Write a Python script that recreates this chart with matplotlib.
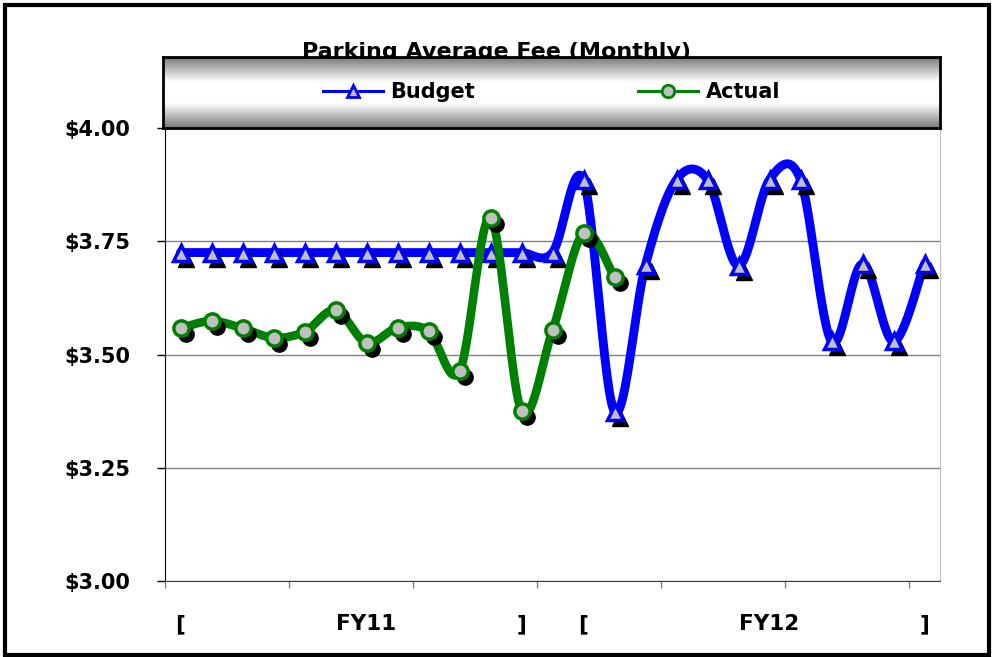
import numpy as np
import matplotlib
matplotlib.use('Agg')
import matplotlib.pyplot as plt
from matplotlib.lines import Line2D
from matplotlib.patches import Rectangle
from matplotlib.transforms import ScaledTranslation

# Données
categories = ['[', '', '', '', '', '', 'FY11', '', '', '', '', ']',
              '', '[', '', '', '', '', '', 'FY12', '', '', '', '', ']']
budget = [3.725, 3.725, 3.725, 3.725, 3.725, 3.725, 3.725, 3.725, 3.725, 3.725,
          3.725, 3.725, 3.725, 3.885, 3.374, 3.698, 3.886, 3.886, 3.696, 3.886,
          3.886, 3.529, 3.70, 3.529, 3.70]
actual = [3.558, 3.574, 3.558, 3.537, 3.550, 3.598, 3.526, 3.559, 3.552, 3.463,
          3.802, 3.376, 3.553, 3.768, 3.670]
yticks = [3.00, 3.25, 3.50, 3.75, 4.00]

BLUE = '#0000FF'
GREEN = '#008000'
SILVER = '#C0C0C0'
FONT = 'DejaVu Sans'


def smooth(y, n=30):
    # lissage type Excel (Bezier / Catmull-Rom)
    y = np.asarray(y, dtype=float)
    x = np.arange(len(y), dtype=float)
    p = np.vstack([x, y]).T
    pts = np.vstack([p[0], p, p[-1]])
    out = []
    t = np.linspace(0, 1, n)[:, None]
    for i in range(1, len(pts) - 2):
        p0, p1, p2, p3 = pts[i - 1], pts[i], pts[i + 1], pts[i + 2]
        b1 = p1 + (p2 - p0) / 6
        b2 = p2 - (p3 - p1) / 6
        seg = ((1 - t) ** 3) * p1 + 3 * ((1 - t) ** 2) * t * b1 + 3 * (1 - t) * t ** 2 * b2 + t ** 3 * p2
        out.append(seg if i == 1 else seg[1:])
    c = np.vstack(out)
    return c[:, 0], c[:, 1]


W, H = 994, 657
fig = plt.figure(figsize=(W / 100, H / 100), dpi=100)
ax = fig.add_axes([165 / W, 1 - 581 / H, 775 / W, 453 / H])

xb = np.arange(len(budget))
xa = np.arange(len(actual))
shadow = ax.transData + ScaledTranslation(0.05, -0.06, fig.dpi_scale_trans)

# Budget
sx, sy = smooth(budget)
ax.plot(sx, sy, color=BLUE, lw=6.4, solid_capstyle='round', zorder=3)
ax.plot(xb, budget, ls='none', marker='^', ms=12, color='black', transform=shadow, zorder=3.1)
ax.plot(xb, budget, ls='none', marker='^', ms=12, mfc=SILVER, mec=BLUE, mew=2.5, zorder=3.2)

# Actual
sx, sy = smooth(actual)
ax.plot(sx, sy, color=GREEN, lw=6.2, solid_capstyle='round', zorder=4)
ax.plot(xa, actual, ls='none', marker='o', ms=11, color='black', transform=shadow, zorder=4.1)
ax.plot(xa, actual, ls='none', marker='o', ms=11, mfc=SILVER, mec=GREEN, mew=2.5, zorder=4.2)

ax.set_xlim(-0.5, len(categories) - 0.5)
ax.set_ylim(3.0, 4.0)

ax.set_yticks(yticks)
ax.set_yticklabels(['${:.2f}'.format(v) for v in yticks], fontsize=15, fontweight='bold', family=FONT)
ax.tick_params(axis='y', length=6, width=1, pad=19, colors='black')
ax.grid(axis='y', color='#808080', lw=1)
ax.set_axisbelow(True)

ax.set_xticks(np.arange(-0.5, len(categories), 4))
ax.set_xticklabels([])
ax.tick_params(axis='x', which='major', length=5, width=1, color='#808080')
ax.set_xticks(np.arange(len(categories)), minor=True)
ax.set_xticklabels(categories, minor=True, fontsize=15.5, fontweight='bold', family=FONT)
ax.tick_params(axis='x', which='minor', length=0, pad=24)

ax.spines['top'].set_visible(False)
ax.spines['right'].set_color('#C0C0C0')
ax.spines['left'].set_color('black')
ax.spines['bottom'].set_color('#404040')

# Titre (en partie caché par la légende)
fig.text(496 / W, 1 - 58 / H, 'Parking Average Fee (Monthly)', ha='center', va='baseline',
         fontsize=16, fontweight='bold', family=FONT)

# Boîte de légende avec dégradé
lax = fig.add_axes([163 / W, 1 - 128 / H, 777 / W, 71 / H], zorder=5)
t = np.linspace(0, 1, 256)
grad = 0.47 + 0.53 * np.minimum(1, (1 - np.abs(2 * t - 1)) / 0.7)
lax.imshow(grad[:, None], aspect='auto', cmap='gray', vmin=0, vmax=1,
           extent=[0, 1, 0, 1], interpolation='bilinear')
lax.set_xlim(0, 1)
lax.set_ylim(0, 1)
lax.set_xticks([])
lax.set_yticks([])
for s in lax.spines.values():
    s.set_linewidth(2)
    s.set_color('black')
handles = [Line2D([], [], color=BLUE, lw=2.2, marker='^', ms=9, mfc=SILVER, mec=BLUE, mew=2),
           Line2D([], [], color=GREEN, lw=2.2, marker='o', ms=9, mfc=SILVER, mec=GREEN, mew=2)]
leg = lax.legend(handles, ['Budget', 'Actual'], loc='center', ncol=2, frameon=False,
                 handlelength=2.9, handletextpad=0.35, columnspacing=7.8,
                 prop={'size': 15, 'weight': 'bold', 'family': FONT})

# Cadre extérieur
fig.patches.append(Rectangle((5 / W, 1 - 655 / H), 983.5 / W, 650 / H, transform=fig.transFigure,
                             fill=False, lw=3, edgecolor='black'))

fig.savefig('out.png', dpi=100)
